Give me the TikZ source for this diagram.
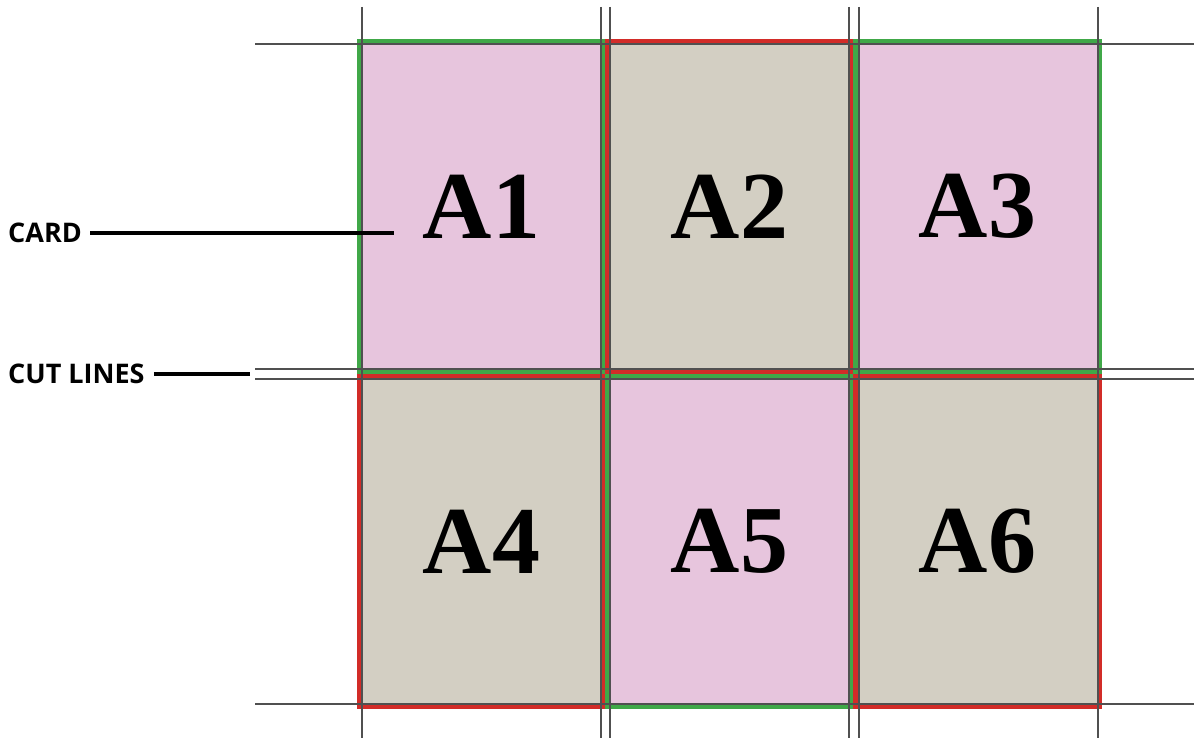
\documentclass[tikz,border=0pt]{standalone}
\usepackage{fontspec}
\setmainfont{Liberation Serif}
\newfontfamily\tagfont{Open Sans}
\usetikzlibrary{positioning}
\definecolor{cardpink}{RGB}{231,197,221}
\definecolor{cardtan}{RGB}{211,207,195}
\definecolor{edgegreen}{RGB}{64,168,72}
\definecolor{edgered}{RGB}{210,44,40}
\definecolor{cutgray}{RGB}{80,80,80}

\begin{document}
\begin{tikzpicture}[x=1pt, y=-1pt, node distance=5pt and 4pt]
  \tikzset{
    card/.style={minimum width=244pt,minimum height=330pt,inner sep=0pt,outer sep=0pt,
                 line width=5pt,font=\fontsize{96}{96}\selectfont\bfseries},
    pinkcard/.style={card,fill=cardpink,draw=edgegreen},
    tancard/.style={card,fill=cardtan,draw=edgered},
    cut/.style={draw=cutgray,line width=1.2pt},
    tag/.style={font=\tagfont\bfseries\fontsize{27}{27}\selectfont,inner sep=0pt,anchor=west},
    leader/.style={line width=4.4pt}
  }
  \useasboundingbox (0,0) rectangle (1194,738);
  % the six cards
  \node[pinkcard] (a1) at (481.5,206.5) {A1};
  \node[tancard,right=of a1] (a2) {A2};
  \node[pinkcard,right=of a2] (a3) {A3};
  \node[tancard,below=of a1] (a4) {A4};
  \node[pinkcard,right=of a4] (a5) {A5};
  \node[tancard,right=of a5] (a6) {A6};
  % cut lines
  \foreach \cx in {362,601,610,849,859,1098}
    \draw[cut] (\cx,7) -- (\cx,738);
  \foreach \cy in {44,369,379,704}
    \draw[cut] (255,\cy) -- (1194,\cy);
  % labels
  \node[tag] (cardtag) at (8,233) {CARD};
  \coordinate (cardend) at (394,233);
  \draw[leader] ([xshift=8pt]cardtag.east) -- (cardend);
  \node[tag] (cuttag) at (8,374) {CUT LINES};
  \coordinate (cutend) at (250,374);
  \draw[leader] ([xshift=9pt]cuttag.east) -- (cutend);
\end{tikzpicture}
\end{document}
